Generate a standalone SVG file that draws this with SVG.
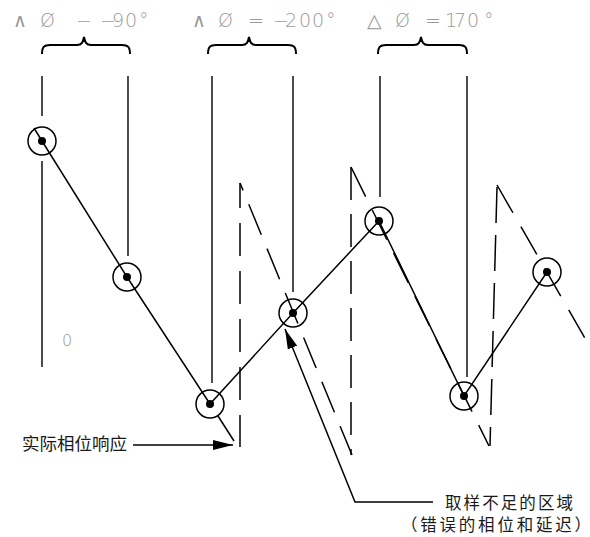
<svg xmlns="http://www.w3.org/2000/svg" width="590" height="537" viewBox="0 0 590 537">
<style>
.bg{fill:#fff}
.lbl{font-family:"DejaVu Sans","Liberation Sans",sans-serif;font-size:19px;fill:#999;font-weight:300}
.zero{font-family:"DejaVu Sans","Liberation Sans",sans-serif;font-size:16px;fill:#999;font-weight:300}
.cn{font-family:"Noto Sans CJK SC",sans-serif;fill:#1a1a1a}
.brace{fill:none;stroke:#000;stroke-width:2}
.guide{fill:none;stroke:#000;stroke-width:1.4}
.curve{fill:none;stroke:#000;stroke-width:1.5}
.dash{fill:none;stroke:#000;stroke-width:1.5}
.ring{fill:none;stroke:#000;stroke-width:1.5}
.dot{fill:#000}
.arrow{fill:none;stroke:#000;stroke-width:1.5}
</style>
<defs>
<marker id="ah" viewBox="0 0 20 10" refX="20" refY="5" markerWidth="20" markerHeight="10" markerUnits="userSpaceOnUse" orient="auto">
<path d="M0,0 L20,5 L0,10 z" fill="#000"/>
</marker>
</defs>
<rect class="bg" x="0" y="0" width="590" height="537"/>

<g id="labels">
<text class="lbl" x="13 40 76 100 112 125 139" y="27">∧Ø−−90°</text>
<text class="lbl" x="192 218 248 273 285 299 312 326" y="27">∧Ø=−200°</text>
<text class="lbl" x="367 395 425 445 454 467 484" y="27">△Ø=170°</text>
<text class="zero" x="62" y="346">0</text>
</g>

<g id="braces">
<path class="brace" d="M42,54 C42,47 44,45 50,45 L77,45 C82,45 83,42 84,37 C85,42 86,45 91,45 L122,45 C128,45 130,47 130,54"/>
<path class="brace" d="M208,54 C208,47 210,45 216,45 L242,45 C247,45 248,42 249,37 C250,42 251,45 256,45 L288,45 C294,45 296,47 296,54"/>
<path class="brace" d="M378,54 C378,47 380,45 386,45 L414,45 C419,45 420,42 421,37 C422,42 423,45 428,45 L459,45 C465,45 467,47 467,54"/>
</g>

<g id="guides">
<path class="guide" d="M42,76 L42,116 M42,161 L42,367"/>
<path class="guide" d="M128,76 L128,256"/>
<path class="guide" d="M212,76 L212,383"/>
<path class="guide" d="M293,76 L293,292"/>
<path class="guide" d="M380,76 L380,197"/>
<path class="guide" d="M467,76 L467,377"/>
</g>

<g id="connectors">
<path class="curve" d="M34,128 L42,141 L127,277 L210,404 L293,313 L379,221 L464,396 L547,272"/>
<path class="curve" d="M218,416 L234,441"/>
<path class="dash" d="M240,183 L240,447" stroke-dasharray="33 15" stroke-dashoffset="8"/>
<path class="dash" d="M240,183 L352,455" stroke-dasharray="33 15" stroke-dashoffset="25"/>
<path class="dash" d="M351,167 L351,455" stroke-dasharray="33 14"/>
<path class="dash" d="M351,167 L489,446" stroke-dasharray="33 15"/>
<path class="dash" d="M497,187 L490,446" stroke-dasharray="36 12"/>
<path class="dash" d="M497,185 L586,340" stroke-dasharray="32 16"/>
<path class="arrow" d="M133,445 L233,445" marker-end="url(#ah)"/>
<path class="arrow" d="M433,502 L355,502 L285,329" marker-end="url(#ah)"/>
</g>

<g id="n1"><circle class="ring" cx="42" cy="141" r="14"/><circle class="dot" cx="42" cy="141" r="4"/></g>
<g id="n2"><circle class="ring" cx="127" cy="277" r="14"/><circle class="dot" cx="127" cy="277" r="4"/></g>
<g id="n3"><circle class="ring" cx="210" cy="404" r="14"/><circle class="dot" cx="210" cy="404" r="4"/></g>
<g id="n4"><circle class="ring" cx="293" cy="313" r="14"/><circle class="dot" cx="293" cy="313" r="4"/></g>
<g id="n5"><circle class="ring" cx="379" cy="221" r="14"/><circle class="dot" cx="379" cy="221" r="4"/></g>
<g id="n6"><circle class="ring" cx="464" cy="396" r="14"/><circle class="dot" cx="464" cy="396" r="4"/></g>
<g id="n7"><circle class="ring" cx="547" cy="272" r="14"/><circle class="dot" cx="547" cy="272" r="4"/></g>

<g id="annotations">
<text class="cn" x="22" y="450" font-size="17.5">实际相位响应</text>
<text class="cn" x="445" y="509" font-size="16.5" textLength="128" lengthAdjust="spacing">取样不足的区域</text>
<text class="cn" x="401" y="531" font-size="16.5" textLength="190" lengthAdjust="spacing">（错误的相位和延迟）</text>
</g>
</svg>
